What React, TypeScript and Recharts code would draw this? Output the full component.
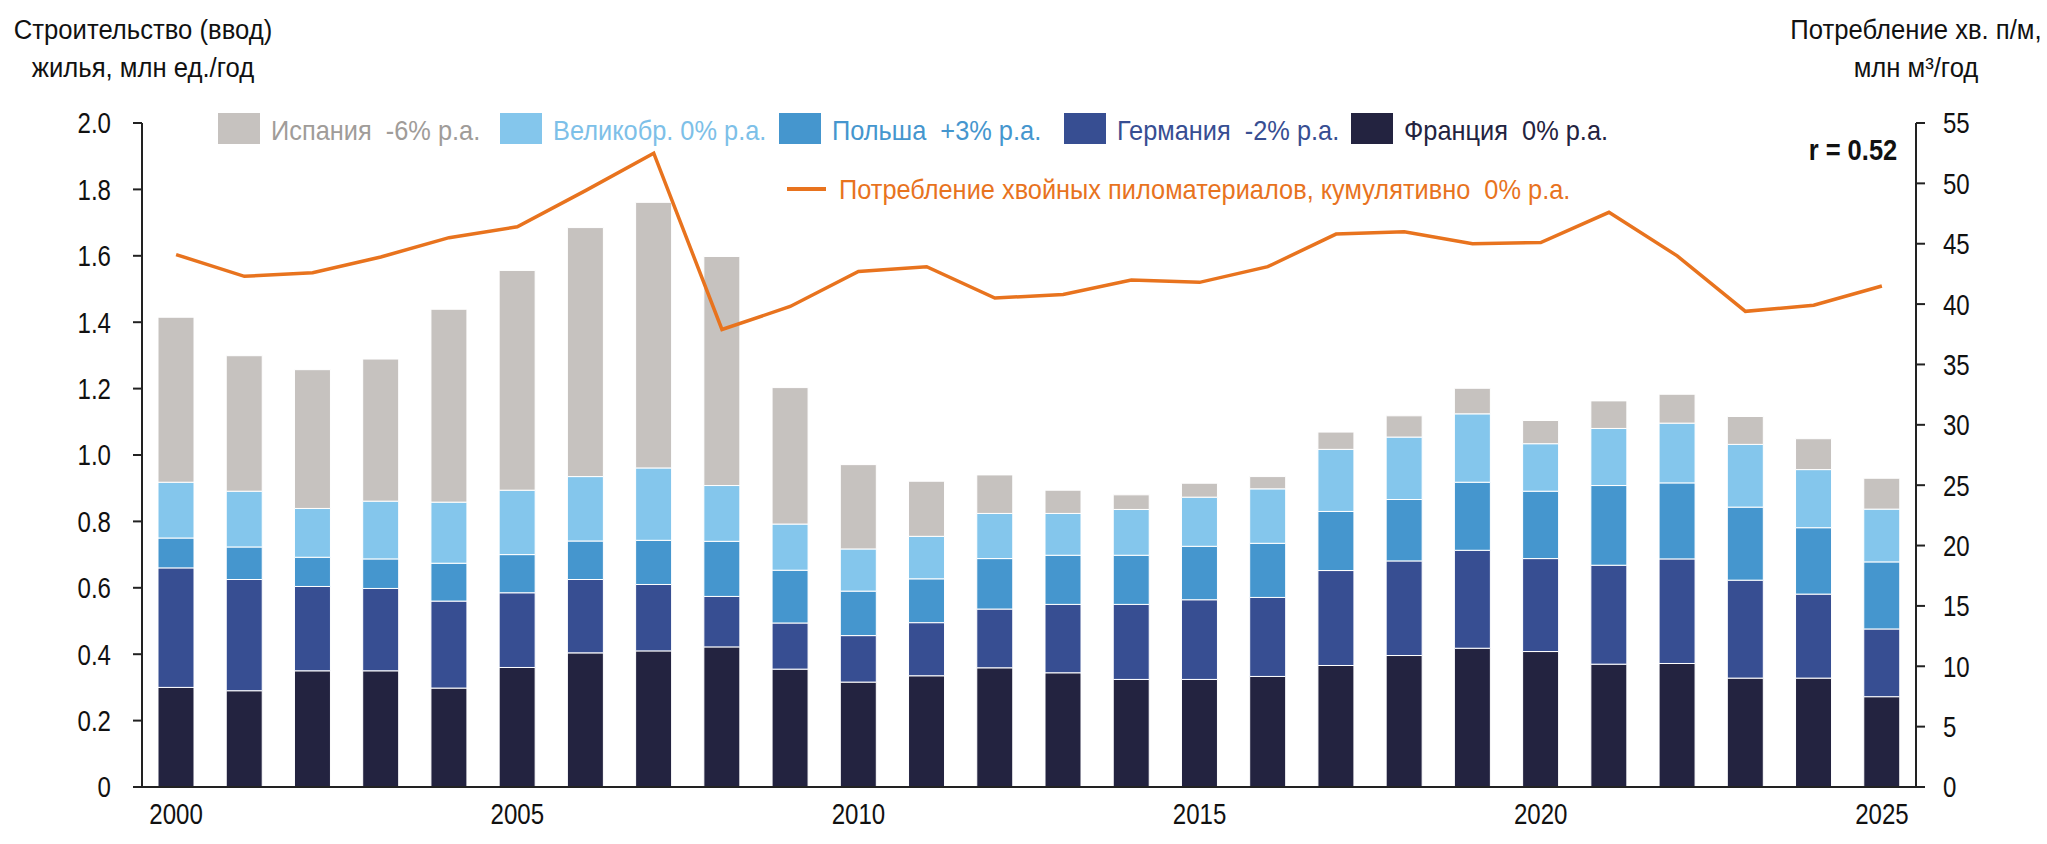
import React from "react";
import { ComposedChart, Bar, Line, XAxis, YAxis } from "recharts";

// ---- data ----
const years = [
  "2000", "2001", "2002", "2003", "2004", "2005", "2006", "2007", "2008", "2009",
  "2010", "2011", "2012", "2013", "2014", "2015", "2016", "2017", "2018", "2019",
  "2020", "2021", "2022", "2023", "2024", "2025",
];

const france = [0.3, 0.29, 0.35, 0.35, 0.298, 0.36, 0.404, 0.41, 0.422, 0.355, 0.316, 0.335, 0.359, 0.344, 0.324, 0.324, 0.333, 0.366, 0.396, 0.418, 0.408, 0.37, 0.372, 0.328, 0.328, 0.272];
const germany = [0.36, 0.335, 0.254, 0.248, 0.262, 0.225, 0.221, 0.2, 0.152, 0.139, 0.14, 0.16, 0.177, 0.206, 0.226, 0.24, 0.238, 0.286, 0.285, 0.295, 0.28, 0.298, 0.315, 0.295, 0.253, 0.204];
const poland = [0.09, 0.098, 0.088, 0.089, 0.114, 0.115, 0.116, 0.133, 0.166, 0.159, 0.134, 0.132, 0.152, 0.148, 0.148, 0.161, 0.163, 0.178, 0.185, 0.205, 0.203, 0.24, 0.229, 0.22, 0.2, 0.202];
const uk = [0.168, 0.168, 0.147, 0.174, 0.184, 0.194, 0.194, 0.218, 0.168, 0.139, 0.127, 0.128, 0.136, 0.126, 0.138, 0.148, 0.164, 0.187, 0.188, 0.206, 0.143, 0.172, 0.18, 0.189, 0.175, 0.159];
const spain = [0.497, 0.408, 0.418, 0.428, 0.581, 0.662, 0.75, 0.8, 0.69, 0.411, 0.254, 0.166, 0.116, 0.07, 0.044, 0.042, 0.037, 0.052, 0.064, 0.077, 0.07, 0.083, 0.087, 0.084, 0.093, 0.093];

// softwood lumber consumption, mln m3/yr (right axis)
const lumber = [44.1, 42.3, 42.6, 43.9, 45.5, 46.4, 49.4, 52.5, 37.9, 39.8, 42.7, 43.1, 40.5, 40.8, 42.0, 41.8, 43.1, 45.8, 46.0, 45.0, 45.1, 47.6, 44.0, 39.4, 39.9, 41.5];

const leftTicks = [0, 0.2, 0.4, 0.6, 0.8, 1.0, 1.2, 1.4, 1.6, 1.8, 2.0];
const rightTicks = [0, 5, 10, 15, 20, 25, 30, 35, 40, 45, 50, 55];

const barLabels = ["Испания  -6% р.а.", "Великобр. 0% р.а.", "Польша  +3% р.а.", "Германия  -2% р.а.", "Франция  0% р.а."];
const lineLabel = "Потребление хвойных пиломатериалов, кумулятивно  0% р.а.";

// ---- styles ----
// no Arial Narrow here, so squeeze Liberation Sans horizontally
const FONT = "'Liberation Sans', Arial, sans-serif";
const C = {
  spain: "#C6C2BF",
  uk: "#84C6EC",
  poland: "#4596CE",
  germany: "#374E92",
  france: "#232340",
  line: "#E8731E",
  axis: "#222",
};
const barColors = [C.spain, C.uk, C.poland, C.germany, C.france];
const labelColors = ["#A09C99", "#7DC0E8", "#4596CE", "#374E92", "#232340"];
const legendX = [218, 500, 779, 1064, 1351];

const data = years.map((y, i) => ({
  year: y,
  france: france[i],
  germany: germany[i],
  poland: poland[i],
  uk: uk[i],
  spain: spain[i],
  lumber: lumber[i],
}));

function NarrowTick(props: any) {
  const { x, y, payload, textAnchor, fmt, dy } = props;
  const label = fmt ? fmt(payload.value) : String(payload.value);
  return (
    <text
      transform={`translate(${x},${y}) scale(0.83,1)`}
      textAnchor={textAnchor}
      dy={dy}
      fontSize={29}
      fontFamily={FONT}
      fill="#111"
    >
      {label}
    </text>
  );
}

const fmtLeft = (v: number) => (v === 0 ? "0" : v.toFixed(1));

const squeeze = (k: number, origin: string, extra = ""): React.CSSProperties => ({
  display: "inline-block",
  transform: `${extra} scaleX(${k})`,
  transformOrigin: origin,
  whiteSpace: "pre",
});

const titleStyle: React.CSSProperties = {
  position: "absolute",
  top: 11,
  textAlign: "center",
  fontSize: 27,
  lineHeight: "38px",
  ...squeeze(0.95, "50% 0", "translateX(-50%)"),
};

export default function App() {
  return (
    <div style={{ position: "absolute", left: 0, top: 0, width: 2047, height: 844, background: "#fff", fontFamily: FONT, color: "#111" }}>
      <ComposedChart width={2047} height={844} data={data} margin={{ top: 123, right: 0, bottom: 0, left: 0 }}>
        <XAxis
          dataKey="year"
          interval={4}
          tickLine={false}
          tickSize={0}
          tickMargin={16}
          height={57}
          tick={<NarrowTick dy="0.71em" />}
          axisLine={{ stroke: C.axis, strokeWidth: 2 }}
        />
        <YAxis
          yAxisId="left"
          domain={[0, 2]}
          ticks={leftTicks}
          width={142}
          tickSize={9}
          tickMargin={22}
          tick={<NarrowTick dy="0.36em" fmt={fmtLeft} />}
          tickLine={{ stroke: C.axis, strokeWidth: 2 }}
          axisLine={{ stroke: C.axis, strokeWidth: 2 }}
          allowDataOverflow
        />
        <YAxis
          yAxisId="right"
          orientation="right"
          domain={[0, 55]}
          ticks={rightTicks}
          width={131}
          tickSize={9}
          tickMargin={18}
          tick={<NarrowTick dy="0.36em" />}
          tickLine={{ stroke: C.axis, strokeWidth: 2 }}
          axisLine={{ stroke: C.axis, strokeWidth: 2 }}
          allowDataOverflow
        />
        <Bar yAxisId="left" dataKey="france" stackId="a" fill={C.france} stroke="#fff" strokeWidth={1} barSize={36} isAnimationActive={false} />
        <Bar yAxisId="left" dataKey="germany" stackId="a" fill={C.germany} stroke="#fff" strokeWidth={1} barSize={36} isAnimationActive={false} />
        <Bar yAxisId="left" dataKey="poland" stackId="a" fill={C.poland} stroke="#fff" strokeWidth={1} barSize={36} isAnimationActive={false} />
        <Bar yAxisId="left" dataKey="uk" stackId="a" fill={C.uk} stroke="#fff" strokeWidth={1} barSize={36} isAnimationActive={false} />
        <Bar yAxisId="left" dataKey="spain" stackId="a" fill={C.spain} stroke="#fff" strokeWidth={1} barSize={36} isAnimationActive={false} />
        <Line yAxisId="right" dataKey="lumber" stroke={C.line} strokeWidth={3.5} dot={false} activeDot={false} isAnimationActive={false} />
      </ComposedChart>

      {/* axis titles */}
      <div style={{ ...titleStyle, left: 143 }}>{"Строительство (ввод)\nжилья, млн ед./год"}</div>
      <div style={{ ...titleStyle, left: 1916 }}>{"Потребление хв. п/м,\nмлн м³/год"}</div>
      <div style={{ position: "absolute", right: 2047 - 1897, top: 131, fontSize: 30, lineHeight: "38px", fontWeight: "bold", ...squeeze(0.85, "100% 50%") }}>
        r = 0.52
      </div>

      {/* legend */}
      {barLabels.map((lab, i) => (
        <React.Fragment key={lab}>
          <span style={{ position: "absolute", left: legendX[i], top: 113, width: 42, height: 31, background: barColors[i] }} />
          <span style={{ position: "absolute", left: legendX[i] + 53, top: 111, fontSize: 28.5, lineHeight: "38px", color: labelColors[i], ...squeeze(0.89, "0 50%") }}>
            {lab}
          </span>
        </React.Fragment>
      ))}
      <span style={{ position: "absolute", left: 787, top: 187, width: 39, height: 4, background: C.line }} />
      <span style={{ position: "absolute", left: 839, top: 170, fontSize: 28.5, lineHeight: "38px", color: C.line, ...squeeze(0.89, "0 50%") }}>
        {lineLabel}
      </span>
    </div>
  );
}
